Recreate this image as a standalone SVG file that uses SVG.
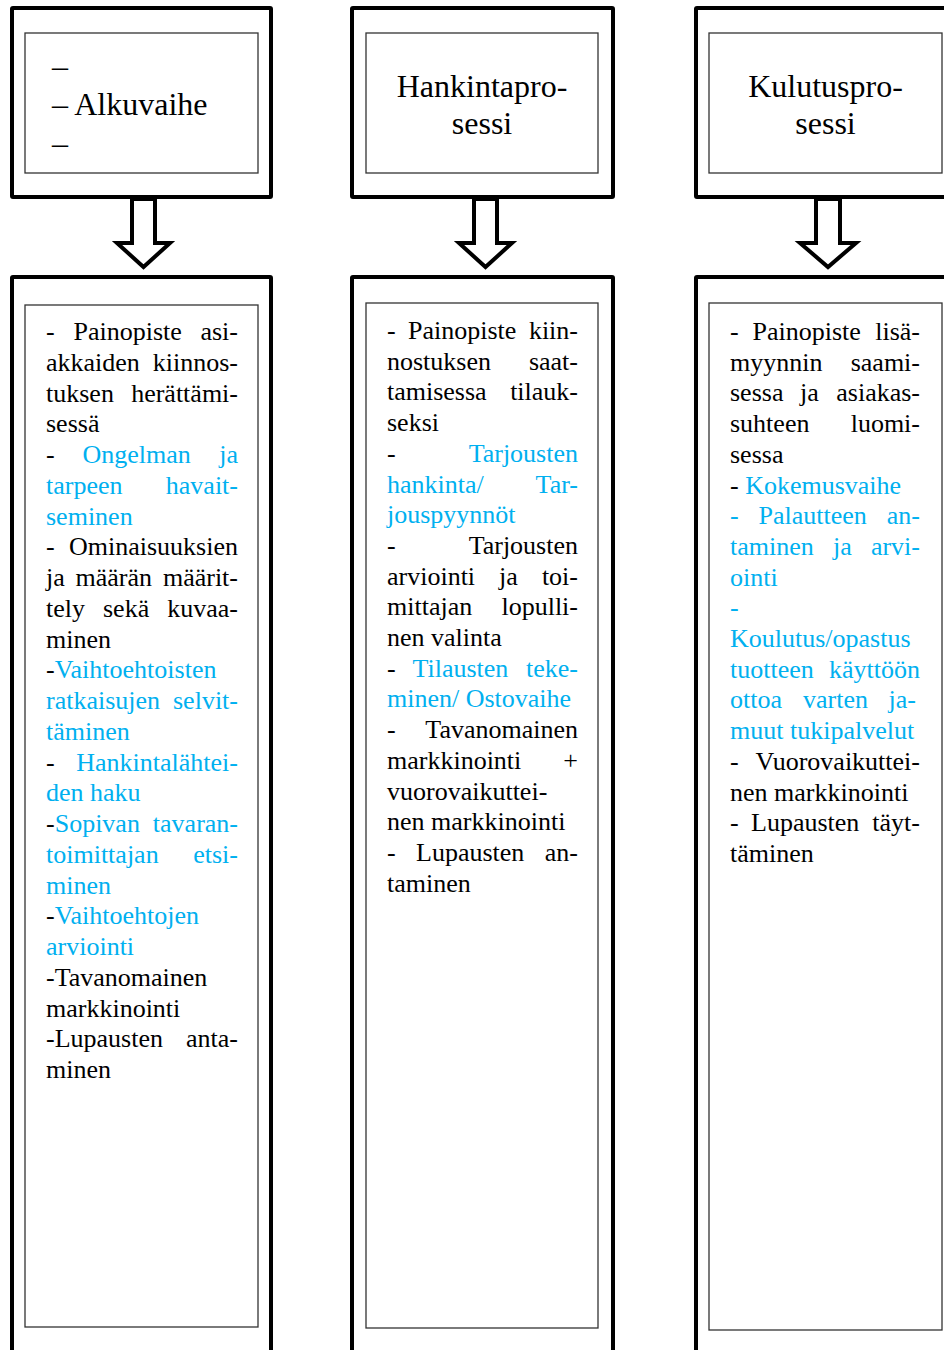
<svg xmlns="http://www.w3.org/2000/svg" width="944" height="1350" viewBox="0 0 944 1350">
  <style>
    .outer { fill: #fff; stroke: #000; stroke-width: 4; }
    .inner { fill: #fff; stroke: #333; stroke-width: 1.3; }
    .arrow { fill: #fff; stroke: #000; stroke-width: 4; stroke-linejoin: miter; }
    text { font-family: "Liberation Serif", "Times New Roman", serif; fill: #000; }
    .h { font-size: 32px; }
    .hc { font-size: 32px; text-anchor: middle; }
    .t { font-size: 26px; }
    .e { font-size: 26px; text-anchor: end; }
    .b { fill: #00b0f0; }
  </style>
  <rect width="944" height="1350" fill="#fff"/>

  <!-- Stage headings -->
  <g id="alkuvaihe">
    <rect class="outer" x="12" y="8" width="259" height="189" rx="1"/>
    <rect class="inner" x="25" y="33" width="233" height="140"/>
    <text class="h" x="52" y="76.5">–</text>
    <text class="h" x="52" y="115">– Alkuvaihe</text>
    <text class="h" x="52" y="153.5">–</text>
  </g>
  <g id="hankintaprosessi">
    <rect class="outer" x="352" y="8" width="261" height="189" rx="1"/>
    <rect class="inner" x="366" y="33" width="232" height="140"/>
    <text class="hc" x="482" y="96.5">Hankintapro-</text>
    <text class="hc" x="482" y="134">sessi</text>
  </g>
  <g id="kulutusprosessi">
    <rect class="outer" x="696" y="8" width="260" height="189" rx="1"/>
    <rect class="inner" x="709" y="33" width="233" height="140"/>
    <text class="hc" x="825.5" y="96.5">Kulutuspro-</text>
    <text class="hc" x="825.5" y="134">sessi</text>
  </g>

  <!-- Block arrows from headings to detail boxes -->
  <g id="connectors">
    <path class="arrow" d="M132,199 L155,199 L155,243 L170,243 L143.5,267 L117,243 L132,243 Z"/>
    <path class="arrow" d="M474,199 L497,199 L497,243 L512,243 L485.5,267 L459,243 L474,243 Z"/>
    <path class="arrow" d="M816,199 L840,199 L840,243 L856,243 L828,267 L800,243 L816,243 Z"/>
  </g>

  <!-- Detail box: Alkuvaihe -->
  <g id="alkuvaihe-details">
    <rect class="outer" x="12" y="277" width="259" height="1090" rx="1"/>
    <rect class="inner" x="25" y="305" width="233" height="1022"/>
    <text class="t" x="46" y="340">-</text><text class="t" x="73.5" y="340">Painopiste</text><text class="e" x="238" y="340">asi-</text>
    <text class="t" x="46" y="370.75">akkaiden</text><text class="e" x="238" y="370.75">kiinnos-</text>
    <text class="t" x="46" y="401.5">tuksen</text><text class="e" x="238" y="401.5">herättämi-</text>
    <text class="t" x="46" y="432.25">sessä</text>
    <text class="t" x="46" y="463">-</text><text class="t b" x="82.5" y="463">Ongelman</text><text class="e b" x="238" y="463">ja</text>
    <text class="t b" x="46" y="493.75">tarpeen</text><text class="e b" x="238" y="493.75">havait-</text>
    <text class="t b" x="46" y="524.5">seminen</text>
    <text class="t" x="46" y="555.25">-</text><text class="e" x="238" y="555.25">Ominaisuuksien</text>
    <text class="t" x="46" y="586">ja</text><text class="t" x="75.5" y="586">määrän</text><text class="e" x="238" y="586">määrit-</text>
    <text class="t" x="46" y="616.75">tely</text><text class="t" x="103" y="616.75">sekä</text><text class="e" x="238" y="616.75">kuvaa-</text>
    <text class="t" x="46" y="647.5">minen</text>
    <text class="t" x="46" y="678.25">-<tspan class="b">Vaihtoehtoisten</tspan></text>
    <text class="t b" x="46" y="709">ratkaisujen</text><text class="e b" x="238" y="709">selvit-</text>
    <text class="t b" x="46" y="739.75">täminen</text>
    <text class="t" x="46" y="770.5">-</text><text class="e b" x="238" y="770.5">Hankintalähtei-</text>
    <text class="t b" x="46" y="801.25">den haku</text>
    <text class="t" x="46" y="832">-<tspan class="b">Sopivan</tspan></text><text class="e b" x="238" y="832">tavaran-</text>
    <text class="t b" x="46" y="862.75">toimittajan</text><text class="e b" x="238" y="862.75">etsi-</text>
    <text class="t b" x="46" y="893.5">minen</text>
    <text class="t" x="46" y="924.25">-<tspan class="b">Vaihtoehtojen</tspan></text>
    <text class="t b" x="46" y="955">arviointi</text>
    <text class="t" x="46" y="985.75">-Tavanomainen</text>
    <text class="t" x="46" y="1016.5">markkinointi</text>
    <text class="t" x="46" y="1047.25">-Lupausten</text><text class="e" x="238" y="1047.25">anta-</text>
    <text class="t" x="46" y="1078">minen</text>
  </g>

  <!-- Detail box: Hankintaprosessi -->
  <g id="hankintaprosessi-details">
    <rect class="outer" x="352" y="277" width="261" height="1090" rx="1"/>
    <rect class="inner" x="366" y="303" width="232" height="1025"/>
    <text class="t" x="387" y="339">-</text><text class="t" x="408" y="339">Painopiste</text><text class="e" x="578" y="339">kiin-</text>
    <text class="t" x="387" y="369.7">nostuksen</text><text class="e" x="578" y="369.7">saat-</text>
    <text class="t" x="387" y="400.4">tamisessa</text><text class="e" x="578" y="400.4">tilauk-</text>
    <text class="t" x="387" y="431.1">seksi</text>
    <text class="t" x="387" y="461.8">-</text><text class="e b" x="578" y="461.8">Tarjousten</text>
    <text class="t b" x="387" y="492.5">hankinta/</text><text class="e b" x="578" y="492.5">Tar-</text>
    <text class="t b" x="387" y="523.2">jouspyynnöt</text>
    <text class="t" x="387" y="553.9">-</text><text class="e" x="578" y="553.9">Tarjousten</text>
    <text class="t" x="387" y="584.6">arviointi</text><text class="t" x="499" y="584.6">ja</text><text class="e" x="578" y="584.6">toi-</text>
    <text class="t" x="387" y="615.3">mittajan</text><text class="e" x="578" y="615.3">lopulli-</text>
    <text class="t" x="387" y="646">nen valinta</text>
    <text class="t" x="387" y="676.7">-</text><text class="t b" x="412.5" y="676.7">Tilausten</text><text class="e b" x="578" y="676.7">teke-</text>
    <text class="t b" x="387" y="707.4">minen/ Ostovaihe</text>
    <text class="t" x="387" y="738.1">-</text><text class="e" x="578" y="738.1">Tavanomainen</text>
    <text class="t" x="387" y="768.8">markkinointi</text><text class="e" x="578" y="768.8">+</text>
    <text class="t" x="387" y="799.5">vuorovaikuttei-</text>
    <text class="t" x="387" y="830.2">nen markkinointi</text>
    <text class="t" x="387" y="860.9">-</text><text class="t" x="416" y="860.9">Lupausten</text><text class="e" x="578" y="860.9">an-</text>
    <text class="t" x="387" y="891.6">taminen</text>
  </g>

  <!-- Detail box: Kulutusprosessi -->
  <g id="kulutusprosessi-details">
    <rect class="outer" x="696" y="277" width="260" height="1090" rx="1"/>
    <rect class="inner" x="709" y="303" width="233" height="1027"/>
    <text class="t" x="730" y="340">-</text><text class="t" x="752.5" y="340">Painopiste</text><text class="e" x="920" y="340">lisä-</text>
    <text class="t" x="730" y="370.7">myynnin</text><text class="e" x="920" y="370.7">saami-</text>
    <text class="t" x="730" y="401.4">sessa</text><text class="t" x="800" y="401.4">ja</text><text class="e" x="920" y="401.4">asiakas-</text>
    <text class="t" x="730" y="432.1">suhteen</text><text class="e" x="920" y="432.1">luomi-</text>
    <text class="t" x="730" y="462.8">sessa</text>
    <text class="t" x="730" y="493.5">- <tspan class="b">Kokemusvaihe</tspan></text>
    <text class="t b" x="730" y="524.2">-</text><text class="t b" x="758.5" y="524.2">Palautteen</text><text class="e b" x="920" y="524.2">an-</text>
    <text class="t b" x="730" y="554.9">taminen</text><text class="t b" x="833" y="554.9">ja</text><text class="e b" x="920" y="554.9">arvi-</text>
    <text class="t b" x="730" y="585.6">ointi</text>
    <text class="t b" x="730" y="616.3">-</text>
    <text class="t b" x="730" y="647">Koulutus/opastus</text>
    <text class="t b" x="730" y="677.7">tuotteen</text><text class="e b" x="920" y="677.7">käyttöön</text>
    <text class="t b" x="730" y="708.4">ottoa</text><text class="t b" x="803" y="708.4">varten</text><text class="e b" x="916" y="708.4">ja-</text>
    <text class="t b" x="730" y="739.1">muut tukipalvelut</text>
    <text class="t" x="730" y="769.8">-</text><text class="e" x="920" y="769.8">Vuorovaikuttei-</text>
    <text class="t" x="730" y="800.5">nen markkinointi</text>
    <text class="t" x="730" y="831.2">-</text><text class="t" x="751" y="831.2">Lupausten</text><text class="e" x="920" y="831.2">täyt-</text>
    <text class="t" x="730" y="861.9">täminen</text>
  </g>
</svg>
